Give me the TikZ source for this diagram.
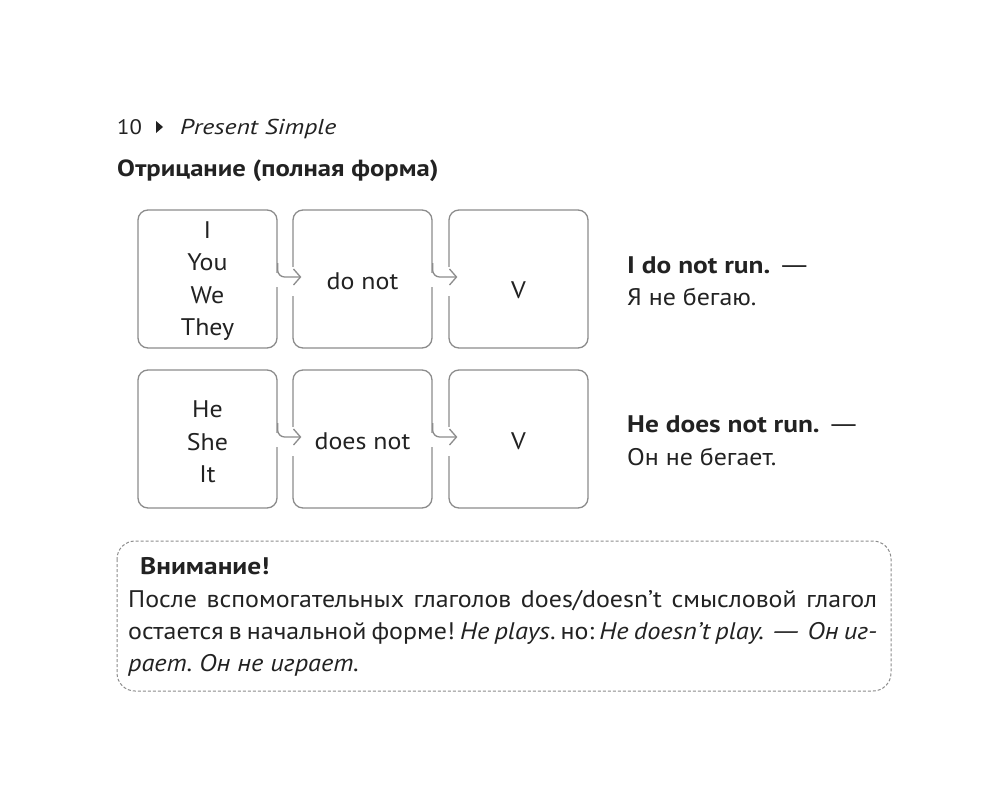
\documentclass[tikz,border=0pt]{standalone}
\usepackage{fontspec}
\setmainfont{PT Sans}[FakeStretch=1.08,BoldFeatures={FakeStretch=1.14},ItalicFeatures={FakeStretch=1.1}]
\newfontfamily\titlefont{PT Sans}[FakeStretch=1.08,ItalicFeatures={FakeStretch=1.2}]
\usetikzlibrary{arrows.meta}
\definecolor{ink}{HTML}{222222}
\definecolor{frame}{HTML}{8C8C8C}
\newcommand{\longdash}{\scalebox{1.6}[1]{—}}
\frenchspacing
\tikzset{
  cell/.style={draw=frame,line width=1.3pt,rounded corners=10pt,minimum width=139pt,minimum height=138pt,inner sep=0pt},
  celltext/.style={text=ink,font=\fontsize{24}{32.5}\selectfont,align=center,inner sep=0pt},
  txt/.style={text=ink,font=\fontsize{24}{32}\selectfont\frenchspacing,inner sep=0pt,anchor=base west},
  link/.style={draw=frame,line width=1.3pt,rounded corners=7pt,-{Straight Barb[length=7pt,width=16pt,line width=1.3pt]}},
  gap/.style={draw=white,line width=4pt},
  note/.style={draw=frame,line width=1pt,dash pattern=on 3pt off 2pt,rounded corners=18pt}
}
\begin{document}
\begin{tikzpicture}[x=1pt,y=-1pt]
\useasboundingbox[fill=white] (0,0) rectangle (1000,808);
% header
\node[txt,font=\titlefont\fontsize{21}{26}\selectfont] (pg) at (117,134) {10};
\fill[ink] (156,121) -- (163,127) -- (156,133) -- cycle;
\node[txt,font=\titlefont\fontsize{21.5}{26}\selectfont\itshape] (ttl) at (180,134) {Present Simple};
\node[txt,font=\fontsize{23.4}{30}\selectfont\bfseries] (hd) at (117,176) {Отрицание (полная форма)};
% boxes
\node[cell] (a1) at (207.5,279) {};
\node[cell] (a2) at (362.5,279) {};
\node[cell] (a3) at (518.5,279) {};
\node[cell] (b1) at (207.5,439) {};
\node[cell] (b2) at (362.5,439) {};
\node[cell] (b3) at (518.5,439) {};
% texts
\node[celltext] (ta1) at (207.5,281) {I\\You\\We\\They};
\node[celltext] (ta2) at (362.5,281) {do not};
\node[celltext] (ta3) at (518.5,290) {V};
\node[celltext] (tb1) at (207.5,442) {He\\She\\It};
\node[celltext] (tb2) at (362.5,441) {does not};
\node[celltext] (tb3) at (518.5,441) {V};
% connectors
\foreach \l/\r in {a1/a2,a2/a3,b1/b2,b2/b3}{
  \draw[gap] ([yshift=-8pt]\l.east) -- ([yshift=6pt]\l.east);
  \draw[gap] ([yshift=-17pt]\r.west) -- ([yshift=12pt]\r.west);
  \draw[link] ([yshift=16pt]\l.east) -- ([yshift=2pt]\l.east) -- ([xshift=9pt,yshift=2pt]\r.west);
}
% examples
\node[txt,font=\fontsize{24}{32}\selectfont\bfseries] (e1) at (627,273) {I do not run. \mdseries\longdash};
\node[txt] (r1) at (627,305) {Я не бегаю.};
\node[txt,font=\fontsize{24}{32}\selectfont\bfseries] (e2) at (627,432) {He does not run. \mdseries\longdash};
\node[txt] (r2) at (627,465) {Он не бегает.};
% note
\draw[note] (117,541) rectangle (891,691);
\node[txt,font=\fontsize{24}{32}\selectfont\bfseries] (nt) at (140,574) {Внимание!};
\node[txt] (l1) at (128,607) {\makebox[749pt][s]{После вспомогательных глаголов does/doesn’t смысловой глагол}};
\node[txt] (l2) at (128,639) {\makebox[749pt][s]{остается в начальной форме! \textit{He plays}. но: \textit{He doesn’t play. \longdash{} Он иг-}}};
\node[txt] (l3) at (128,671) {\textit{рает. Он не играет.}};
\end{tikzpicture}
\end{document}
